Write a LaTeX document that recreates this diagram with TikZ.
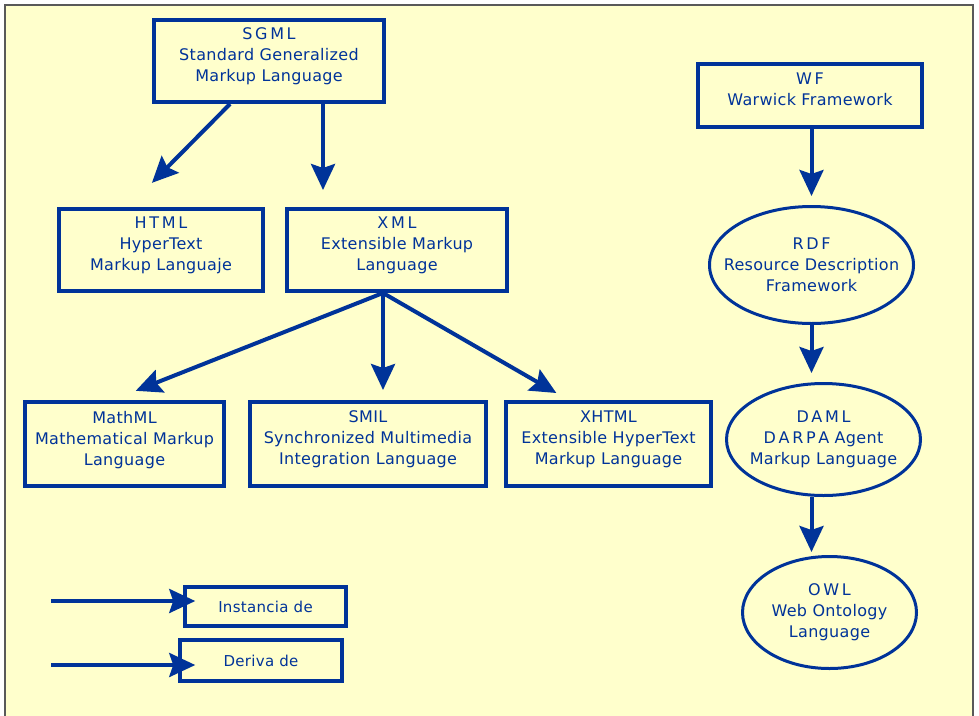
\documentclass[tikz,border=0pt]{standalone}
\usepackage{fontspec}
\setmainfont[LetterSpace=2]{DejaVu Sans}
\usepackage{xcolor}
\definecolor{azul}{RGB}{0,51,153}
\definecolor{fondo}{RGB}{255,255,204}
\usetikzlibrary{arrows.meta,shapes.geometric,positioning}
\tikzset{
  lang/.style={rectangle, draw=azul, line width=4pt, text=azul, align=center, inner sep=0pt,
    font=\fontsize{16}{21}\selectfont, text depth=12pt},
  vocab/.style={ellipse, draw=azul, line width=3pt, text=azul, align=center, inner xsep=-40pt, inner ysep=0pt,
    font=\fontsize{16}{21}\selectfont},
  legd/.style={rectangle, draw=azul, line width=3.5pt, text=azul, align=center, inner sep=0pt,
    font=\fontsize{15}{18}\selectfont},
  line/.style={draw=azul, line width=4pt, -{Stealth[length=26pt,width=24pt,inset=4pt]}},
}
\begin{document}
\begin{tikzpicture}[x=1pt,y=-1pt]
  \useasboundingbox (0,0) rectangle (979,715);
  \draw[fill=fondo, draw=black!65, line width=1.5pt] (5,5) rectangle (973,725);

  \node[lang, minimum width=230pt, minimum height=82pt] (sgml) at (269,61) {S\,G\,M\,L\\Standard Generalized\\Markup Language};
  \node[lang, minimum width=204pt, minimum height=82pt] (html) at (161,250) {H\,T\,M\,L\\HyperText\\Markup Languaje};
  \node[lang, minimum width=220pt, minimum height=82pt] (xml) at (397,250) {X\,M\,L\\Extensible Markup\\Language};
  \node[lang, minimum width=199pt, minimum height=84pt] (mathml) at (124.5,444) {MathML\\Mathematical Markup\\Language};
  \node[lang, minimum width=236pt, minimum height=84pt] (smil) at (368,444) {SMIL\\Synchronized Multimedia\\Integration Language};
  \node[lang, minimum width=205pt, minimum height=84pt] (xhtml) at (608.5,444) {XHTML\\Extensible HyperText\\Markup Language};

  \node[lang, minimum width=224pt, minimum height=63pt] (wf) at (810,95.5) {W\,F\\Warwick Framework};
  \node[vocab, minimum width=204pt, minimum height=117pt] (rdf) at (811.5,265) {R\,D\,F\\Resource Description\\Framework};
  \node[vocab, minimum width=194pt, minimum height=112pt] (daml) at (823.5,439.5) {D\,A\,M\,L\\D\,A\,R\,P\,A Agent\\Markup Language};
  \node[vocab, minimum width=174pt, minimum height=112pt] (owl) at (829.5,612.5) {O\,W\,L\\Web Ontology\\Language};

  \node[legd, minimum width=161pt, minimum height=39pt] (inst) at (265.5,606.5) {Instancia de};
  \node[legd, minimum width=162pt, minimum height=41pt] (deriva) at (261,660.5) {Deriva de};
  \coordinate (ini) at (51,601);
  \coordinate (derini) at (51,665);

  \begin{scope}[every path/.style=line]
    \path[shorten >=34pt] ([xshift=-39pt]sgml.south) -- ([xshift=-33pt]html.north);
    \path[shorten >=17pt] ([xshift=54pt]sgml.south) -- ([xshift=-74pt]xml.north);
    \path[shorten >=25pt] ([xshift=-14pt]xml.south) -- ([xshift=-12pt]mathml.north);
    \path[shorten >=10pt] ([xshift=-14pt]xml.south) -- ([xshift=15pt]smil.north);
    \path[shorten >=14pt] ([xshift=-14pt]xml.south) -- ([xshift=-40pt]xhtml.north);

    \path[shorten >=9pt] (wf.south -| rdf.north) -- (rdf.north);
    \path[shorten >=9pt] (rdf.south) -- (rdf.south |- daml.north);
    \path[shorten >=3pt] (rdf.south |- daml.south) -- (rdf.south |- owl.north);

    \path (ini) -- ([xshift=12pt]inst.west |- ini);
    \path (derini) -- ([xshift=17pt]deriva.west |- derini);
  \end{scope}
\end{tikzpicture}
\end{document}
